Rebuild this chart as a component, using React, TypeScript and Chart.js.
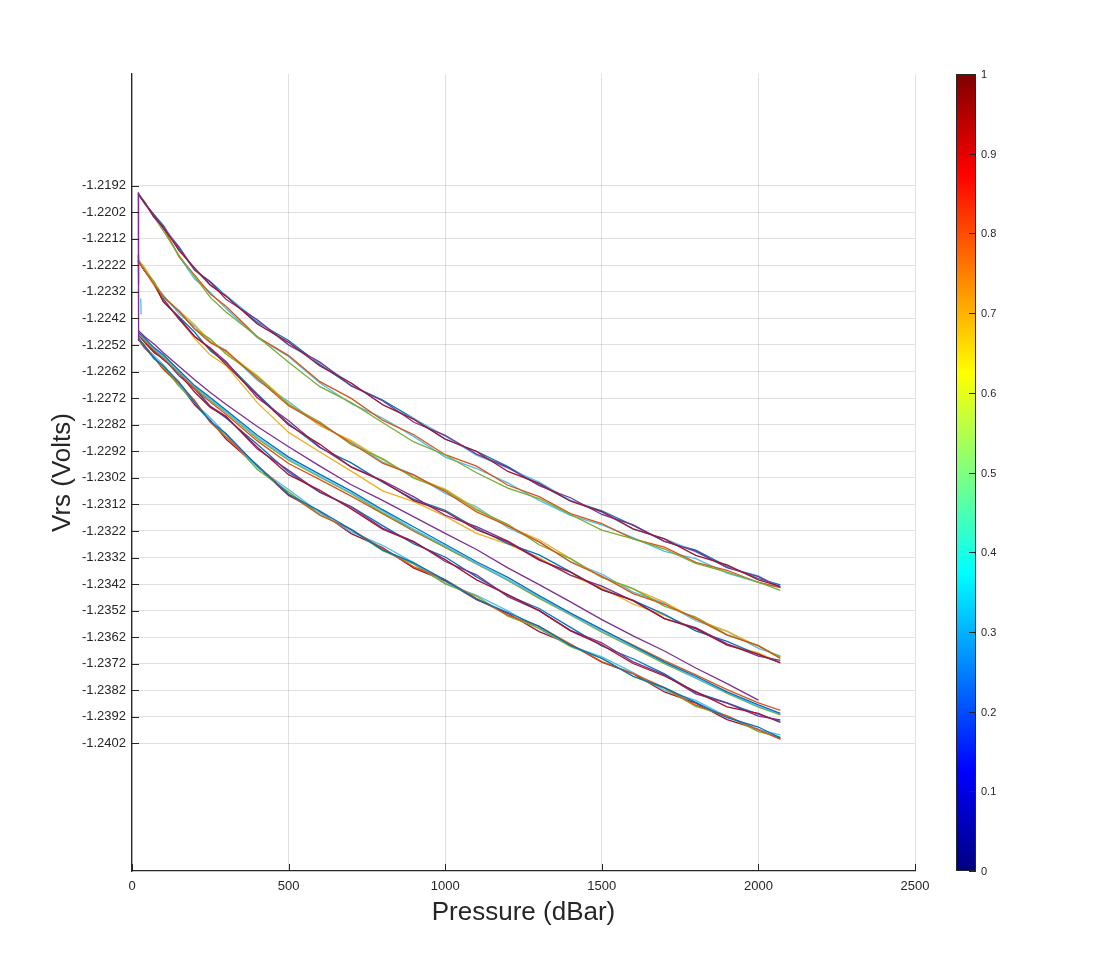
import { useEffect, useRef } from "react";
import { Chart, registerables } from "chart.js";
Chart.register(...registerables);

// pressure samples (dBar) shared by every profile
const pressure = [20, 40, 70, 100, 150, 200, 250, 300, 400, 500, 600, 700, 800, 900, 1000, 1100, 1200, 1300, 1400, 1500, 1600, 1700, 1800, 1900, 2000, 2070];

const yTicks = [-1.2192, -1.2202, -1.2212, -1.2222, -1.2232, -1.2242, -1.2252, -1.2262, -1.2272, -1.2282, -1.2292, -1.2302, -1.2312, -1.2322, -1.2332, -1.2342, -1.2352, -1.2362, -1.2372, -1.2382, -1.2392, -1.2402];
const xTicks = [0, 500, 1000, 1500, 2000, 2500];
const colorbarTicks = [0, 0.1, 0.2, 0.3, 0.4, 0.5, 0.6, 0.7, 0.8, 0.9, 1];

// top bundle
const aPurple = [-1.2195, -1.21986, -1.2203, -1.22082, -1.22152, -1.22238, -1.22284, -1.22348, -1.22425, -1.22519, -1.22584, -1.22674, -1.2273, -1.22811, -1.2286, -1.22931, -1.22981, -1.2305, -1.23095, -1.23158, -1.23197, -1.23259, -1.23296, -1.23358, -1.23392, -1.23433];
const aDarkRed = [-1.21952, -1.21983, -1.22039, -1.22075, -1.22165, -1.2223, -1.22295, -1.22336, -1.22441, -1.2251, -1.22599, -1.22663, -1.22745, -1.228, -1.22875, -1.22921, -1.22996, -1.23041, -1.23108, -1.23147, -1.23212, -1.2325, -1.23312, -1.23348, -1.23404, -1.23429];
const aBlue = [-1.2195, -1.21986, -1.22029, -1.2207, -1.22158, -1.22238, -1.22281, -1.22336, -1.22435, -1.22503, -1.22594, -1.22673, -1.22727, -1.22797, -1.22874, -1.2292, -1.22978, -1.23046, -1.23106, -1.23144, -1.23199, -1.23259, -1.23292, -1.23353, -1.23399, -1.23423];
const aCyan = [-1.21948, -1.21985, -1.22038, -1.22075, -1.2215, -1.22236, -1.22294, -1.22333, -1.22429, -1.22521, -1.22587, -1.22665, -1.22744, -1.22797, -1.22863, -1.22935, -1.22984, -1.23036, -1.23105, -1.2315, -1.23213, -1.23249, -1.23299, -1.23357, -1.23389, -1.23434];
const a2Green = [-1.21951, -1.2198, -1.22038, -1.22091, -1.22183, -1.22263, -1.22341, -1.22396, -1.22488, -1.22585, -1.22677, -1.22737, -1.22812, -1.22885, -1.22934, -1.23001, -1.23059, -1.23098, -1.23158, -1.23217, -1.2325, -1.23288, -1.23342, -1.23375, -1.23413, -1.23444];
const a2Orange = [-1.2195, -1.21981, -1.22039, -1.22078, -1.22187, -1.22257, -1.22328, -1.22374, -1.22489, -1.2256, -1.22658, -1.22721, -1.22803, -1.22858, -1.22933, -1.22976, -1.23048, -1.23091, -1.23155, -1.23192, -1.2325, -1.23281, -1.23338, -1.23368, -1.23414, -1.23433];
const a2Cyan = [-1.21952, -1.21988, -1.22033, -1.22078, -1.22186, -1.22272, -1.22322, -1.22383, -1.22493, -1.22563, -1.22663, -1.22741, -1.22795, -1.22865, -1.22942, -1.22985, -1.23039, -1.23105, -1.23161, -1.23197, -1.23245, -1.23297, -1.23324, -1.23379, -1.23414, -1.23432];

// second bundle
const b1Green = [-1.22202, -1.22238, -1.22281, -1.22341, -1.22392, -1.22459, -1.22498, -1.22554, -1.22639, -1.22744, -1.2281, -1.22895, -1.22948, -1.23021, -1.23066, -1.23141, -1.23195, -1.23272, -1.23324, -1.23395, -1.23437, -1.23503, -1.23544, -1.2361, -1.23652, -1.23696];
const b1Orange = [-1.22203, -1.2224, -1.22292, -1.22337, -1.22393, -1.2246, -1.22511, -1.22542, -1.22646, -1.22749, -1.22816, -1.22889, -1.22965, -1.2301, -1.23072, -1.23148, -1.23201, -1.23261, -1.23337, -1.2339, -1.23456, -1.23496, -1.2355, -1.23612, -1.23652, -1.237];
const b1Yellow = [-1.222, -1.22229, -1.22283, -1.2234, -1.2239, -1.22444, -1.22507, -1.22547, -1.22635, -1.2274, -1.22824, -1.2288, -1.22952, -1.23017, -1.23062, -1.23137, -1.23203, -1.23253, -1.23324, -1.23394, -1.23438, -1.23488, -1.23553, -1.23597, -1.23655, -1.23696];
const b1Cyan = [-1.22202, -1.22233, -1.22288, -1.22332, -1.22403, -1.22449, -1.22507, -1.2254, -1.22653, -1.22733, -1.22823, -1.22882, -1.22961, -1.23008, -1.23079, -1.23129, -1.23208, -1.23261, -1.23335, -1.23382, -1.2345, -1.23492, -1.23558, -1.23598, -1.23662, -1.2369];
const b2Purple = [-1.22204, -1.2224, -1.22286, -1.22346, -1.22423, -1.22488, -1.22531, -1.22582, -1.22719, -1.22805, -1.22904, -1.22979, -1.2303, -1.23092, -1.23161, -1.23204, -1.23258, -1.23326, -1.23386, -1.23428, -1.23483, -1.2355, -1.23584, -1.23645, -1.23691, -1.23707];
const b2DarkRed = [-1.22204, -1.2224, -1.22287, -1.22358, -1.22417, -1.22488, -1.22534, -1.22594, -1.22709, -1.22821, -1.22894, -1.2298, -1.23033, -1.23106, -1.23147, -1.23215, -1.23261, -1.2333, -1.23375, -1.23442, -1.23481, -1.2355, -1.23588, -1.2365, -1.23684, -1.23717];
const b2Blue = [-1.22201, -1.2223, -1.22288, -1.22356, -1.22414, -1.22472, -1.22542, -1.22586, -1.22704, -1.22816, -1.22907, -1.22964, -1.23036, -1.23101, -1.23142, -1.2321, -1.23268, -1.2331, -1.23374, -1.2344, -1.23481, -1.23534, -1.23596, -1.23636, -1.23686, -1.23716];
const b2Yellow = [-1.222, -1.22237, -1.22295, -1.22353, -1.22421, -1.22496, -1.22558, -1.22597, -1.22737, -1.22849, -1.22923, -1.22995, -1.23069, -1.2311, -1.23164, -1.23229, -1.2327, -1.2332, -1.23387, -1.23434, -1.23495, -1.23538, -1.23589, -1.23647, -1.23679, -1.23716];

// smooth profiles
const cPurple = [-1.22465, -1.22488, -1.22516, -1.22549, -1.226, -1.22651, -1.22699, -1.22743, -1.22827, -1.22903, -1.22976, -1.23046, -1.23105, -1.23167, -1.23229, -1.2329, -1.23359, -1.23422, -1.23487, -1.23554, -1.23615, -1.23672, -1.23736, -1.23795, -1.23857, null];
const cBlue = [-1.22472, -1.22494, -1.2253, -1.22557, -1.22615, -1.22673, -1.22718, -1.22765, -1.2286, -1.22942, -1.23007, -1.2307, -1.2314, -1.23205, -1.2327, -1.23336, -1.23395, -1.23463, -1.23529, -1.2359, -1.23652, -1.23714, -1.23767, -1.23826, -1.23875, -1.23907];
const cGreen = [-1.22478, -1.225, -1.22536, -1.22565, -1.22623, -1.22678, -1.22729, -1.22773, -1.22873, -1.22954, -1.23018, -1.2308, -1.23151, -1.23217, -1.23281, -1.23343, -1.23406, -1.23474, -1.23536, -1.23601, -1.23659, -1.2372, -1.23774, -1.23832, -1.23883, -1.23912];
const cCyan = [-1.22475, -1.22497, -1.22533, -1.22562, -1.2262, -1.22675, -1.22723, -1.2277, -1.22867, -1.22949, -1.23014, -1.23077, -1.23144, -1.23214, -1.23276, -1.23342, -1.23403, -1.23468, -1.23534, -1.23597, -1.23656, -1.23715, -1.23773, -1.23829, -1.2388, -1.23909];
const cOrange = [-1.2248, -1.22501, -1.22538, -1.22569, -1.22627, -1.22685, -1.22735, -1.22781, -1.22881, -1.22966, -1.23027, -1.23089, -1.23155, -1.23221, -1.23282, -1.23344, -1.23404, -1.23468, -1.2353, -1.23592, -1.2365, -1.23708, -1.23762, -1.23817, -1.23867, -1.23895];

// third noisy bundle
const nPurple = [-1.2248, -1.22503, -1.22544, -1.22568, -1.22636, -1.22686, -1.22751, -1.22788, -1.22912, -1.22992, -1.23074, -1.2313, -1.23209, -1.2326, -1.23335, -1.23385, -1.23467, -1.2352, -1.23594, -1.23641, -1.23713, -1.23762, -1.23833, -1.23868, -1.23917, -1.23931];
const nDarkRed = [-1.22481, -1.2251, -1.22548, -1.22573, -1.22626, -1.22697, -1.22755, -1.2279, -1.22905, -1.23008, -1.23067, -1.23137, -1.23213, -1.23262, -1.23328, -1.23404, -1.2346, -1.2352, -1.23596, -1.23649, -1.23719, -1.23766, -1.23825, -1.23882, -1.23907, -1.23941];
const nBlue = [-1.22478, -1.22499, -1.22539, -1.22576, -1.22623, -1.22681, -1.22751, -1.22795, -1.22894, -1.22999, -1.23075, -1.23128, -1.232, -1.23269, -1.23318, -1.23393, -1.23462, -1.23512, -1.23583, -1.23653, -1.23701, -1.23758, -1.23828, -1.23867, -1.2391, -1.23937];

// lowest bundle
const dDarkRed = [-1.22499, -1.22531, -1.22567, -1.22612, -1.22667, -1.22745, -1.22803, -1.22874, -1.22977, -1.23086, -1.23148, -1.2323, -1.23283, -1.2336, -1.23408, -1.23479, -1.2353, -1.23599, -1.23647, -1.23714, -1.23757, -1.23826, -1.23868, -1.2393, -1.23967, -1.24004];
const dCyan = [-1.22493, -1.22525, -1.2256, -1.22594, -1.22667, -1.22739, -1.22794, -1.22856, -1.22981, -1.23064, -1.23152, -1.23223, -1.23274, -1.2334, -1.23416, -1.23462, -1.23521, -1.23589, -1.23652, -1.23694, -1.23753, -1.2382, -1.23858, -1.23919, -1.23968, -1.23988];
const dGreen = [-1.22497, -1.22524, -1.22572, -1.22601, -1.22676, -1.22733, -1.2281, -1.22858, -1.22989, -1.23073, -1.23159, -1.23215, -1.23294, -1.23345, -1.23419, -1.23465, -1.23541, -1.23586, -1.23656, -1.23699, -1.23768, -1.23813, -1.2388, -1.23916, -1.23975, -1.23996];
const dOrange = [-1.22496, -1.22521, -1.22568, -1.2261, -1.22664, -1.22729, -1.22811, -1.22866, -1.22972, -1.23081, -1.23161, -1.23214, -1.23286, -1.23355, -1.23403, -1.23474, -1.23537, -1.23579, -1.23646, -1.23712, -1.23757, -1.2381, -1.23876, -1.23916, -1.23969, -1.24003];
const dBlue = [-1.22491, -1.22524, -1.22569, -1.22599, -1.22659, -1.22737, -1.22807, -1.22853, -1.22975, -1.23082, -1.23145, -1.23215, -1.23291, -1.2334, -1.23405, -1.23477, -1.23527, -1.23579, -1.23651, -1.237, -1.23767, -1.2381, -1.23865, -1.23923, -1.23958, -1.23999];

// first-sample spikes at the start of some casts
const spikePressure = [20, 21];
const spikePurple = [-1.21945, -1.22505];
const spikeOrange = [-1.2218, -1.2229];
const spikeCyanPressure = [28, 29];
const spikeCyan = [-1.22345, -1.22405];

const BLUE = "#0072BD";
const ORANGE = "#D95319";
const YELLOW = "#EDB120";
const PURPLE = "#7E2F8E";
const GREEN = "#77AC30";
const CYAN = "#4DBEEE";
const DARKRED = "#A2142F";
const AXIS = "#262626";
const FONT = '"Liberation Sans", Arial, sans-serif';

// listed bottom to top
const profiles: { color: string; x: number[]; y: (number | null)[] }[] = [
  { color: DARKRED, x: pressure, y: dDarkRed },
  { color: CYAN, x: pressure, y: dCyan },
  { color: GREEN, x: pressure, y: dGreen },
  { color: ORANGE, x: pressure, y: dOrange },
  { color: BLUE, x: pressure, y: dBlue },
  { color: BLUE, x: pressure, y: nBlue },
  { color: PURPLE, x: pressure, y: nPurple },
  { color: DARKRED, x: pressure, y: nDarkRed },
  { color: ORANGE, x: pressure, y: cOrange },
  { color: GREEN, x: pressure, y: cGreen },
  { color: CYAN, x: pressure, y: cCyan },
  { color: BLUE, x: pressure, y: cBlue },
  { color: PURPLE, x: pressure, y: cPurple },
  { color: YELLOW, x: pressure, y: b2Yellow },
  { color: BLUE, x: pressure, y: b2Blue },
  { color: PURPLE, x: pressure, y: b2Purple },
  { color: DARKRED, x: pressure, y: b2DarkRed },
  { color: CYAN, x: pressure, y: b1Cyan },
  { color: YELLOW, x: pressure, y: b1Yellow },
  { color: GREEN, x: pressure, y: b1Green },
  { color: ORANGE, x: pressure, y: b1Orange },
  { color: CYAN, x: pressure, y: a2Cyan },
  { color: ORANGE, x: pressure, y: a2Orange },
  { color: GREEN, x: pressure, y: a2Green },
  { color: BLUE, x: pressure, y: aBlue },
  { color: CYAN, x: pressure, y: aCyan },
  { color: PURPLE, x: pressure, y: aPurple },
  { color: DARKRED, x: pressure, y: aDarkRed },
  { color: ORANGE, x: spikePressure, y: spikeOrange },
  { color: CYAN, x: spikeCyanPressure, y: spikeCyan },
  { color: PURPLE, x: spikePressure, y: spikePurple },
];

const decor = {
  id: "matlabDecor",
  afterDraw(chart: Chart) {
    const { ctx, chartArea } = chart;
    const { left, right, top, bottom } = chartArea;
    const xs = chart.scales.x;
    const ys = chart.scales.y;
    ctx.save();
    // inward tick marks
    ctx.strokeStyle = AXIS;
    ctx.lineWidth = 1;
    ctx.beginPath();
    yTicks.forEach((v) => {
      const py = Math.round(ys.getPixelForValue(v)) + 0.5;
      ctx.moveTo(left, py);
      ctx.lineTo(left + 7, py);
    });
    xTicks.forEach((v) => {
      const px = Math.round(xs.getPixelForValue(v)) + 0.5;
      ctx.moveTo(px, bottom);
      ctx.lineTo(px, bottom - 7);
    });
    ctx.stroke();

    // axis titles
    ctx.fillStyle = AXIS;
    ctx.font = `26px ${FONT}`;
    ctx.textAlign = "center";
    ctx.textBaseline = "middle";
    ctx.fillText("Pressure (dBar)", (left + right) / 2, 913);
    ctx.save();
    ctx.translate(63, (top + bottom) / 2);
    ctx.rotate(-Math.PI / 2);
    ctx.fillText("Vrs (Volts)", 0, 0);
    ctx.restore();

    // colorbar
    const cbL = right + 41;
    const cbR = right + 61;
    const grad = ctx.createLinearGradient(0, bottom, 0, top);
    grad.addColorStop(0, "#000080");
    grad.addColorStop(0.125, "#0000ff");
    grad.addColorStop(0.375, "#00ffff");
    grad.addColorStop(0.625, "#ffff00");
    grad.addColorStop(0.875, "#ff0000");
    grad.addColorStop(1, "#800000");
    ctx.fillStyle = grad;
    ctx.fillRect(cbL, top, cbR - cbL, bottom - top);
    ctx.strokeStyle = AXIS;
    ctx.lineWidth = 1;
    ctx.strokeRect(cbL + 0.5, top + 0.5, cbR - cbL - 1, bottom - top - 1);
    ctx.font = `11px ${FONT}`;
    ctx.textAlign = "left";
    ctx.fillStyle = AXIS;
    ctx.beginPath();
    colorbarTicks.forEach((t) => {
      const py = Math.round(bottom - t * (bottom - top)) + 0.5;
      ctx.moveTo(cbR - 7, py);
      ctx.lineTo(cbR, py);
      ctx.fillText(String(t), cbR + 5, py);
    });
    ctx.stroke();
    ctx.restore();
  },
};

function PressureChart() {
  const chartRef = useRef<HTMLCanvasElement | null>(null);
  const chartInstance = useRef<Chart | null>(null);

  useEffect(() => {
    document.body.style.margin = "0";
    const ctx = chartRef.current?.getContext("2d");
    if (chartInstance.current) {
      chartInstance.current.destroy();
    }
    if (ctx) {
      chartInstance.current = new Chart(ctx, {
        type: "line",
        data: {
          datasets: profiles
            .map((p) => ({
              data: p.x.map((x, i) => ({ x, y: p.y[i] })),
              borderColor: p.color,
              borderWidth: 1.3,
              pointRadius: 0,
              fill: false,
              tension: 0,
              spanGaps: false,
            }))
            .reverse(),
        },
        options: {
          responsive: false,
          animation: false,
          layout: { padding: { top: 74, right: 183, left: 0, bottom: 0 } },
          plugins: {
            legend: { display: false },
            tooltip: { enabled: false },
          },
          scales: {
            x: {
              type: "linear",
              min: 0,
              max: 2500,
              afterBuildTicks: (scale: any) => {
                scale.ticks = xTicks.map((v) => ({ value: v }));
              },
              afterFit: (scale: any) => {
                scale.height = 109;
              },
              ticks: {
                color: AXIS,
                font: { family: FONT, size: 13 },
                padding: 8,
                maxRotation: 0,
                callback: (v: any) => String(v),
              },
              grid: { color: "rgba(0,0,0,0.12)", drawTicks: false },
              border: { color: AXIS, width: 1.3 },
            },
            y: {
              type: "linear",
              min: -1.245,
              max: -1.215,
              afterBuildTicks: (scale: any) => {
                scale.ticks = yTicks.map((v) => ({ value: v }));
              },
              afterFit: (scale: any) => {
                scale.width = 132;
              },
              ticks: {
                color: AXIS,
                font: { family: FONT, size: 13 },
                padding: 6,
                callback: (v: any) => Number(v).toFixed(4),
              },
              grid: { color: "rgba(0,0,0,0.12)", drawTicks: false },
              border: { color: AXIS, width: 1.3 },
            },
          },
        },
        plugins: [decor],
      });
    }
    return () => {
      if (chartInstance.current) {
        chartInstance.current.destroy();
        chartInstance.current = null;
      }
    };
  }, []);

  return <canvas ref={chartRef} width={1098} height={980} style={{ display: "block" }} />;
}

export default function App() {
  return <PressureChart />;
}
